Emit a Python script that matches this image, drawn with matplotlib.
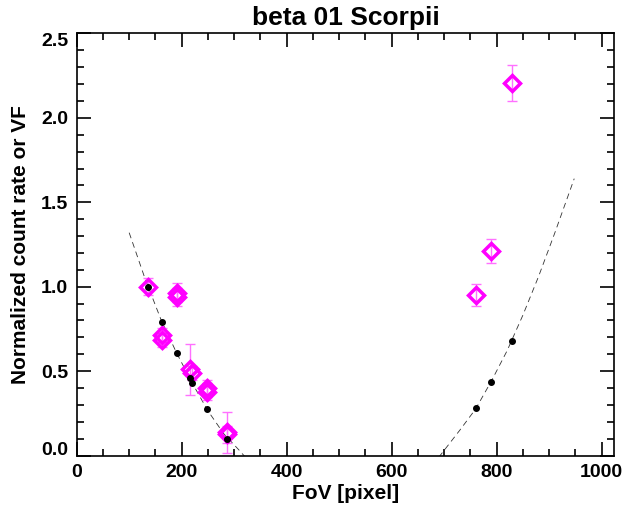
import matplotlib
matplotlib.use("Agg")
import matplotlib.pyplot as plt
from matplotlib.ticker import MultipleLocator, FormatStrFormatter
from matplotlib.transforms import ScaledTranslation

plt.rcParams['font.family'] = ['Liberation Sans', 'DejaVu Sans']

# Measured normalized count rate (magenta diamonds)
meas_x = [136, 191, 191, 163, 163, 216, 220, 248, 248, 287, 287, 761, 789, 829]
meas_y = [1.00, 0.965, 0.94, 0.714, 0.684, 0.51, 0.49, 0.398, 0.378, 0.137, 0.125, 0.951, 1.211, 2.207]
meas_err = [0.05, 0.055, 0.055, 0.04, 0.04, 0.15, 0.04, 0.05, 0.05, 0.12, 0.05, 0.063, 0.072, 0.105]

# Vignetting factor at measured positions (black dots)
vf_x = [136, 163, 191, 216, 220, 248, 287, 761, 789, 829]
vf_y = [1.00, 0.79, 0.605, 0.457, 0.428, 0.275, 0.10, 0.28, 0.434, 0.678]

# Model curve (dashed)
curve_left_x = [100, 130, 160, 190, 220, 250, 280, 310, 330]
curve_left_y = [1.32, 1.05, 0.81, 0.61, 0.43, 0.265, 0.13, 0.03, -0.04]
curve_right_x = [690, 700, 730, 760, 790, 820, 850, 880, 910, 948]
curve_right_y = [-0.01, 0.03, 0.15, 0.275, 0.44, 0.62, 0.83, 1.06, 1.31, 1.64]

fig = plt.figure(figsize=(6.26, 5.15), dpi=100)
ax = fig.add_axes([0.1225, 0.1155, 0.8585, 0.8195])

ax.plot(curve_left_x, curve_left_y, ls=(0, (7, 5)), color='#333333', lw=0.6)
ax.plot(curve_right_x, curve_right_y, ls=(0, (7, 5)), color='#333333', lw=0.6)

ax.errorbar(meas_x, meas_y, yerr=meas_err, fmt='none', ecolor='#ff70ff',
            elinewidth=1.0, capsize=3.5, capthick=1.0, zorder=3)
ax.plot(meas_x, meas_y, ls='none', marker='D', markersize=8,
        markerfacecolor='none', markeredgecolor='#ff00ff', markeredgewidth=2.5, zorder=4)
ax.plot(vf_x, vf_y, ls='none', marker='o', markersize=4,
        color='black', zorder=5)

ax.set_xlim(0, 1024)
ax.set_ylim(0, 2.5)
ax.xaxis.set_major_locator(MultipleLocator(200))
ax.xaxis.set_minor_locator(MultipleLocator(50))
ax.yaxis.set_major_locator(MultipleLocator(0.5))
ax.yaxis.set_minor_locator(MultipleLocator(0.1))
ax.yaxis.set_major_formatter(FormatStrFormatter('%.1f'))
ax.tick_params(which='both', direction='in', top=True, right=True, width=1.2,
               labelsize=14, pad=6)
ax.tick_params(which='major', length=10)
ax.tick_params(which='minor', length=5)
for lab in ax.get_xticklabels() + ax.get_yticklabels():
    lab.set_fontweight('bold')
for s in ax.spines.values():
    s.set_linewidth(1.2)

# IDL-style: end labels pulled inside the axis range
yticks = ax.yaxis.get_major_ticks()
ylocs = ax.yaxis.get_majorticklocs()
for t, loc in zip(yticks, ylocs):
    if abs(loc - 0.0) < 1e-9:
        t.label1.set_transform(t.label1.get_transform() + ScaledTranslation(0, 7/100, fig.dpi_scale_trans))
    elif abs(loc - 2.5) < 1e-9:
        t.label1.set_transform(t.label1.get_transform() + ScaledTranslation(0, -6/100, fig.dpi_scale_trans))

ax.set_xlabel('FoV [pixel]', fontsize=15, fontweight='bold', labelpad=2)
ax.set_ylabel('Normalized count rate or VF', fontsize=15, fontweight='bold', labelpad=8)
ax.set_title('beta 01 Scorpii', fontsize=19, fontweight='bold', pad=6)

fig.savefig('out.png', dpi=100)
